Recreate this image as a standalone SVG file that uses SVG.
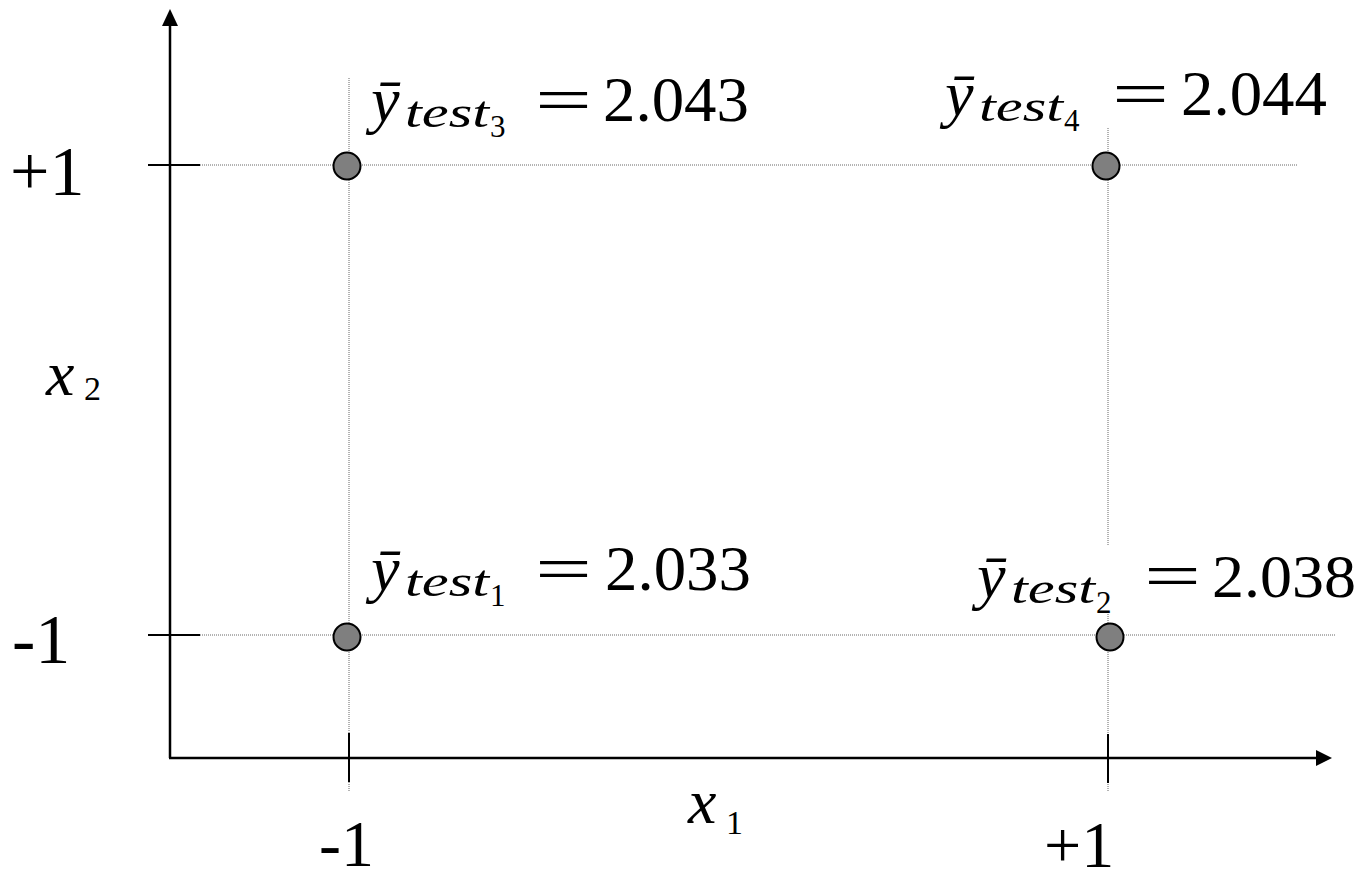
<svg xmlns="http://www.w3.org/2000/svg" width="1365" height="882" viewBox="0 0 1365 882">
<style>
.axis{stroke:#000;stroke-width:2.5;fill:none}
.tick{stroke:#000;stroke-width:2;fill:none}
.dot{stroke:#666;stroke-width:1;stroke-dasharray:1 1;fill:none}
.pt{fill:#7f7f7f;stroke:#000;stroke-width:2}
text{font-family:'Liberation Serif','Times New Roman',serif;fill:#000}
.i{font-style:italic}
</style>
<rect width="1365" height="882" fill="#fff"/>
<g id="connectors">
<line class="dot" x1="200" y1="165" x2="1297" y2="165"/>
<line class="dot" x1="200" y1="635" x2="1335" y2="635"/>
<line class="dot" x1="349" y1="78" x2="349" y2="792"/>
<line class="dot" x1="1108" y1="128" x2="1108" y2="545"/>
<line class="dot" x1="1108" y1="612" x2="1108" y2="792"/>
<line class="axis" x1="170" y1="758" x2="170" y2="24"/>
<polygon points="162,26 178,26 170,9" fill="#000"/>
<line class="axis" x1="169" y1="758" x2="1318" y2="758"/>
<polygon points="1316,750 1316,766 1332,758" fill="#000"/>
<line class="tick" x1="148" y1="165" x2="200" y2="165"/>
<line class="tick" x1="148" y1="635" x2="200" y2="635"/>
<line class="tick" x1="349" y1="733" x2="349" y2="782"/>
<line class="tick" x1="1108" y1="734" x2="1108" y2="783"/>
</g>
<g id="axis-labels">
<text x="10" y="195" font-size="70">+1</text>
<text x="12" y="663" font-size="70">-1</text>
<text x="319" y="866" font-size="66">-1</text>
<text x="1044" y="867" font-size="66">+1</text>
<text class="i" x="46" y="395" font-size="64">x</text>
<text x="84" y="400" font-size="34">2</text>
<text class="i" x="688" y="823" font-size="64">x</text>
<text x="726" y="834" font-size="34">1</text>
</g>
<g id="p1">
<circle class="pt" cx="347" cy="637" r="13.5"/>
<text class="i" x="371" y="590" font-size="64">ȳ</text>
<text class="i" x="405" y="596" font-size="44" textLength="84" lengthAdjust="spacingAndGlyphs">test</text>
<text x="490" y="606" font-size="31">1</text>
<text x="535" y="590" font-size="64" textLength="57" lengthAdjust="spacingAndGlyphs">=</text>
<text x="605" y="590" font-size="64" textLength="146" lengthAdjust="spacingAndGlyphs">2.033</text>
</g>
<g id="p2">
<circle class="pt" cx="1110" cy="637" r="13.5"/>
<text class="i" x="977" y="597" font-size="64">ȳ</text>
<text class="i" x="1011" y="603" font-size="44" textLength="84" lengthAdjust="spacingAndGlyphs">test</text>
<text x="1096" y="613" font-size="31">2</text>
<text x="1144" y="597" font-size="64" textLength="57" lengthAdjust="spacingAndGlyphs">=</text>
<text x="1212" y="597" font-size="62" textLength="144" lengthAdjust="spacingAndGlyphs">2.038</text>
</g>
<g id="p3">
<circle class="pt" cx="347" cy="166" r="13.5"/>
<text class="i" x="371" y="121" font-size="64">ȳ</text>
<text class="i" x="405" y="127" font-size="44" textLength="84" lengthAdjust="spacingAndGlyphs">test</text>
<text x="490" y="137" font-size="31">3</text>
<text x="535" y="121" font-size="64" textLength="57" lengthAdjust="spacingAndGlyphs">=</text>
<text x="603" y="121" font-size="64" textLength="146" lengthAdjust="spacingAndGlyphs">2.043</text>
</g>
<g id="p4">
<circle class="pt" cx="1106" cy="166" r="13.5"/>
<text class="i" x="945" y="115" font-size="64">ȳ</text>
<text class="i" x="979" y="121" font-size="44" textLength="84" lengthAdjust="spacingAndGlyphs">test</text>
<text x="1064" y="131" font-size="31">4</text>
<text x="1112" y="115" font-size="64" textLength="57" lengthAdjust="spacingAndGlyphs">=</text>
<text x="1181" y="115" font-size="64" textLength="146" lengthAdjust="spacingAndGlyphs">2.044</text>
</g>
</svg>
